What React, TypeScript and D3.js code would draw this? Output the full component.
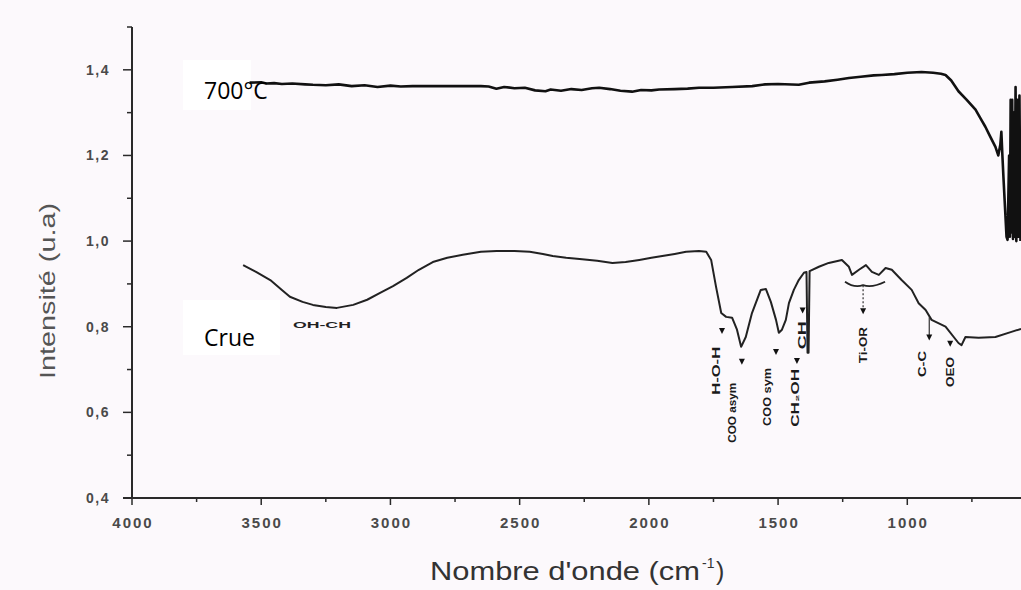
import React from "react";
import * as d3 from "d3";

const W = 1021;
const H = 590;

// Crue (raw) spectrum: wavenumber (cm-1) and intensity
const crueWn = [3570, 3520, 3465, 3420, 3389, 3340, 3300, 3250, 3207, 3144, 3090, 3040, 2990, 2937, 2890, 2836, 2780, 2720, 2650, 2589, 2520, 2461, 2410, 2372, 2320, 2268, 2200, 2141, 2090, 2037, 1990, 1948, 1900, 1856, 1806, 1778, 1759, 1740, 1720, 1701, 1678, 1659, 1643, 1625, 1601, 1567, 1547, 1528, 1508, 1497, 1485, 1470, 1458, 1439, 1420, 1400, 1390, 1386, 1382, 1378, 1342, 1304, 1253, 1226, 1214, 1187, 1160, 1137, 1110, 1084, 1060, 1022, 983, 956, 929, 906, 852, 802, 790, 775, 724, 659, 597, 560];
const crueI = [0.944, 0.928, 0.909, 0.886, 0.870, 0.858, 0.851, 0.846, 0.844, 0.851, 0.863, 0.879, 0.895, 0.914, 0.933, 0.951, 0.961, 0.968, 0.975, 0.977, 0.977, 0.975, 0.970, 0.965, 0.961, 0.958, 0.954, 0.949, 0.951, 0.956, 0.961, 0.965, 0.970, 0.975, 0.977, 0.975, 0.956, 0.893, 0.832, 0.823, 0.821, 0.793, 0.753, 0.776, 0.832, 0.886, 0.888, 0.858, 0.816, 0.786, 0.793, 0.816, 0.855, 0.886, 0.909, 0.926, 0.928, 0.739, 0.739, 0.930, 0.940, 0.949, 0.956, 0.940, 0.921, 0.933, 0.944, 0.928, 0.921, 0.937, 0.933, 0.909, 0.886, 0.855, 0.839, 0.816, 0.800, 0.762, 0.757, 0.776, 0.774, 0.776, 0.788, 0.795];

// 700°C spectrum
const calcWn = [3545, 3500, 3480, 3450, 3420, 3380, 3330, 3300, 3250, 3200, 3150, 3100, 3050, 3000, 2960, 2914, 2800, 2650, 2620, 2590, 2560, 2520, 2480, 2440, 2400, 2380, 2340, 2300, 2260, 2220, 2192, 2150, 2110, 2065, 2030, 1990, 1960, 1900, 1850, 1806, 1750, 1678, 1600, 1550, 1500, 1420, 1380, 1320, 1270, 1226, 1180, 1130, 1099, 1050, 1000, 945, 900, 870, 852, 830, 802, 770, 736, 715, 698, 680, 659, 648, 640, 636, 632, 628, 622, 616, 612, 606, 603, 600, 597, 594, 591, 588, 585, 581, 578, 574, 570, 566, 562];
const calcI = [1.370, 1.371, 1.368, 1.369, 1.367, 1.368, 1.366, 1.365, 1.364, 1.366, 1.362, 1.364, 1.360, 1.363, 1.361, 1.362, 1.362, 1.362, 1.361, 1.356, 1.360, 1.357, 1.358, 1.352, 1.350, 1.354, 1.351, 1.355, 1.353, 1.357, 1.358, 1.355, 1.351, 1.349, 1.353, 1.352, 1.354, 1.355, 1.356, 1.358, 1.358, 1.360, 1.362, 1.366, 1.367, 1.365, 1.370, 1.373, 1.377, 1.381, 1.384, 1.387, 1.388, 1.390, 1.393, 1.395, 1.393, 1.391, 1.388, 1.375, 1.350, 1.330, 1.307, 1.285, 1.267, 1.245, 1.220, 1.200, 1.225, 1.255, 1.200, 1.150, 1.080, 1.010, 1.003, 1.200, 1.010, 1.330, 1.020, 1.330, 1.005, 1.300, 1.010, 1.360, 1.000, 1.330, 1.010, 1.340, 1.000];

const xTicks = [4000, 3500, 3000, 2500, 2000, 1500, 1000];
const xMinor = [3750, 3250, 2750, 2250, 1750, 1250, 750];
const yTicks = [0.4, 0.6, 0.8, 1.0, 1.2, 1.4];
const yMinor = [0.5, 0.7, 0.9, 1.1, 1.3, 1.5];

// Band assignments
const bandLabels = ["H-O-H", "COO asym", "COO sym", "CH\u2082OH", "CH", "Ti-OR", "C-C", "OEO"];
const bandWn = [1740, 1675, 1539, 1434, 1405, 1171, 942, 834];
const bandI = [0.697, 0.599, 0.636, 0.634, 0.780, 0.757, 0.713, 0.694];
const bandArrowWn = [1717, 1640, 1508, 1427, 1405, 1171, 915, 834];
const bandArrowI = [0.790, 0.718, 0.741, 0.720, 0.838, 0.836, 0.775, 0.760];
const bandLen = [48, 60, 58, 58, 28, 36, 26, 30];

export default function App() {
  const x = d3.scaleLinear().domain([4000, 560]).range([132, 1021]);
  const y = d3.scaleLinear().domain([0.4, 1.5]).range([498, 27]);

  const mk = (wn: number[], iv: number[]) =>
    d3
      .line<number>()
      .x((_, i) => x(wn[i]))
      .y((_, i) => y(iv[i]))(wn.map((_, i) => i)) as string;

  const cruePath = mk(crueWn, crueI);
  const calcPath = mk(calcWn, calcI);

  const axisColor = "#2a2a2a";
  const tickFont = "'Liberation Sans', Arial, sans-serif";

  return (
    <div style={{ position: "fixed", left: 0, top: 0, width: W, height: H, background: "#fcf9fc" }}>
      <svg width={W} height={H} style={{ display: "block" }}>
        <rect x={0} y={0} width={W} height={H} fill="#fcf9fc" />

        {/* axes */}
        <line x1={x(4000)} x2={x(4000)} y1={y(1.5)} y2={y(0.4) + 1} stroke={axisColor} strokeWidth={2} />
        <line x1={x(4000) - 9} x2={W} y1={y(0.4)} y2={y(0.4)} stroke={axisColor} strokeWidth={2} />

        {yTicks.map((t) => (
          <g key={"yt" + t}>
            <line x1={x(4000) - 9} x2={x(4000)} y1={y(t)} y2={y(t)} stroke={axisColor} strokeWidth={1.5} />
            <text
              x={110}
              y={y(t) + 5}
              textAnchor="end"
              fontFamily={tickFont}
              fontWeight="bold"
              fontSize={14}
              fill="#4a4a4a"
              letterSpacing={1.5}
            >
              {t.toFixed(1).replace(".", ",")}
            </text>
          </g>
        ))}
        {yMinor.map((t) => (
          <line key={"ym" + t} x1={x(4000) - 5} x2={x(4000)} y1={y(t)} y2={y(t)} stroke={axisColor} strokeWidth={1.5} />
        ))}

        {xTicks.map((t) => (
          <g key={"xt" + t}>
            <line x1={x(t)} x2={x(t)} y1={y(0.4)} y2={y(0.4) + 7} stroke={axisColor} strokeWidth={1.5} />
            <text
              x={x(t) + 1}
              y={y(0.4) + 30}
              textAnchor="middle"
              fontFamily={tickFont}
              fontWeight="bold"
              fontSize={15}
              fill="#4a4a4a"
              letterSpacing={2}
            >
              {t}
            </text>
          </g>
        ))}
        {xMinor.map((t) => (
          <line key={"xm" + t} x1={x(t)} x2={x(t)} y1={y(0.4)} y2={y(0.4) + 4} stroke={axisColor} strokeWidth={1.5} />
        ))}

        {/* axis titles */}
        <text
          transform={`translate(55,${291}) rotate(-90)`}
          textAnchor="middle"
          fontFamily={tickFont}
          fontSize={22}
          fill="#555"
          textLength={176}
          lengthAdjust="spacingAndGlyphs"
        >
          Intensité (u.a)
        </text>
        <text
          x={430}
          y={580}
          fontFamily={tickFont}
          fontSize={25}
          fill="#333"
          textLength={270}
          lengthAdjust="spacingAndGlyphs"
        >
          Nombre d'onde (cm
        </text>
        <text x={702} y={568} fontFamily={tickFont} fontSize={14} fill="#333">
          -1
        </text>
        <text x={716} y={580} fontFamily={tickFont} fontSize={25} fill="#333">
          )
        </text>

        {/* label boxes */}
        <rect x={183} y={60} width={68} height={50} fill="#ffffff" />
        <rect x={183} y={300} width={97} height={55} fill="#ffffff" />

        {/* curves */}
        <path d={calcPath} fill="none" stroke="#111" strokeWidth={2.6} strokeLinejoin="round" />
        <path d={cruePath} fill="none" stroke="#222" strokeWidth={2} strokeLinejoin="round" />

        <text x={204} y={99} fontFamily="'Open Sans', sans-serif" fontSize={23} fill="#000">
          700°C
        </text>
        <text x={204} y={346} fontFamily="'Open Sans', sans-serif" fontSize={23} fill="#000">
          Crue
        </text>

        {/* OH-CH band label */}
        <text
          x={x(3265)}
          y={y(0.804) + 3}
          textAnchor="middle"
          fontFamily={tickFont}
          fontWeight="bold"
          fontSize={9}
          fill="#222"
          textLength={58}
          lengthAdjust="spacingAndGlyphs"
        >
          OH-CH
        </text>

        {/* Ti-OR bracket */}
        <path
          d={`M${x(1241)},${y(0.905)} Q${x(1206)},${y(0.89)} ${x(1171)},${y(0.897)} Q${x(1136)},${y(0.89)} ${x(1086)},${y(0.905)}`}
          fill="none"
          stroke="#222"
          strokeWidth={1.8}
        />
        <line x1={x(1171)} x2={x(1171)} y1={y(0.897)} y2={y(0.84)} stroke="#333" strokeWidth={1.2} strokeDasharray="2,2" />
        {/* C-C line */}
        <line x1={x(915)} x2={x(915)} y1={y(0.822)} y2={y(0.78)} stroke="#333" strokeWidth={1.2} />

        {bandLabels.map((lab, i) => {
          const cx = x(bandWn[i]);
          const cy = y(bandI[i]);
          const ax = x(bandArrowWn[i]);
          const ay = y(bandArrowI[i]);
          return (
            <g key={lab}>
              <path d={`M${ax - 3},${ay - 3} L${ax + 3},${ay - 3} L${ax},${ay + 3} Z`} fill="#111" />
              <text
                transform={`translate(${cx},${cy}) rotate(-90)`}
                textAnchor="middle"
                dominantBaseline="central"
                fontFamily={tickFont}
                fontWeight="bold"
                fontSize={10}
                fill="#1a1a1a"
                textLength={bandLen[i]}
                lengthAdjust="spacingAndGlyphs"
              >
                {lab}
              </text>
            </g>
          );
        })}
      </svg>
    </div>
  );
}
